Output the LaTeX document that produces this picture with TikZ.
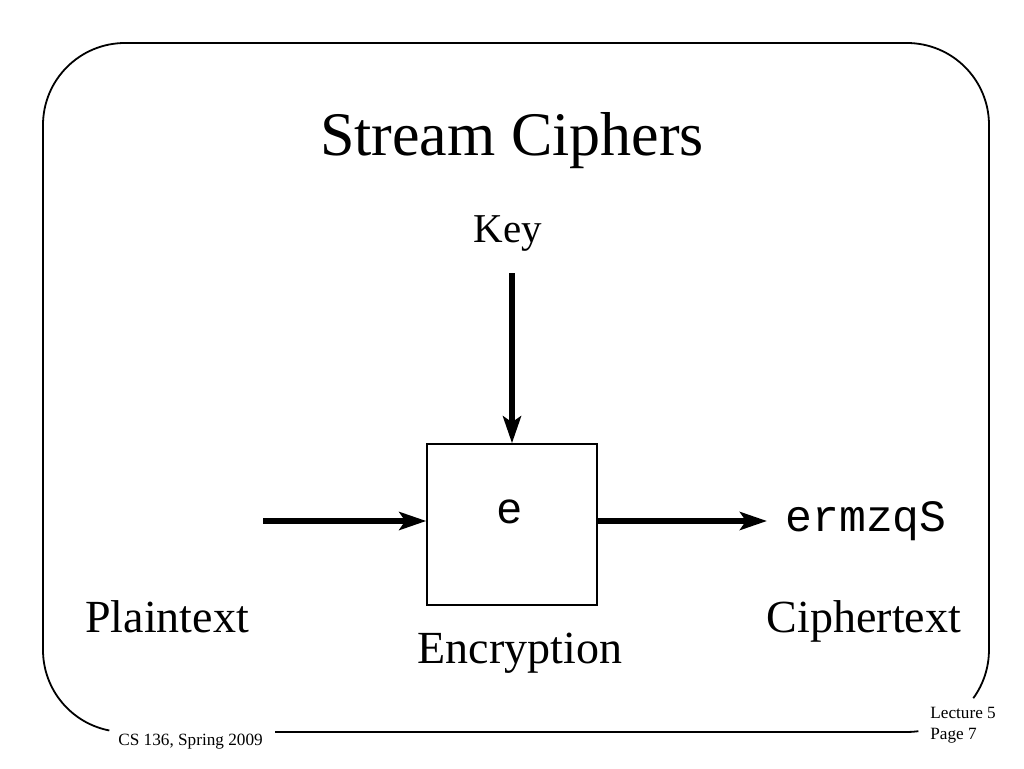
\documentclass[tikz,border=0pt]{standalone}
\usepackage{fontspec}
\setmainfont{Liberation Serif}
\setmonofont{Liberation Mono}
\usetikzlibrary{arrows.meta}
\begin{document}
\begin{tikzpicture}[x=0.5pt,y=0.5pt,
  frame/.style={line width=0.9pt,black},
  bigarrow/.style={line width=3.2pt,-{Stealth[length=13.5pt,width=9pt,inset=3pt]}},
  boxstyle/.style={draw,line width=0.7pt,minimum width=85pt,minimum height=80.5pt,inner sep=0pt},
  lbl/.style={font=\fontsize{23}{27}\selectfont,anchor=base,inner sep=0pt},
  foot/.style={font=\fontsize{8.6}{10.5}\selectfont,anchor=base west,inner sep=0pt}]
\useasboundingbox (0,0) rectangle (1024,768);
% frame
\draw[frame] (275,36) -- (907,36) arc[start angle=-90,end angle=-82,radius=82];
\draw[frame] (973.3,69.8) arc[start angle=-36,end angle=0,radius=82]
  -- (989,643) arc[start angle=0,end angle=90,radius=82]
  -- (125,725) arc[start angle=90,end angle=180,radius=82]
  -- (43,118) arc[start angle=180,end angle=259,radius=82];
% texts
\node[anchor=base,inner sep=0pt,font=\fontsize{31}{37}\selectfont] (title) at (512,613) {Stream Ciphers};
\node[anchor=base,inner sep=0pt,font=\fontsize{20.5}{24}\selectfont] (key) at (508,526) {Key};
\node[boxstyle] (enc) at (512,243.5) {};
\node[anchor=base,inner sep=0pt,font=\ttfamily\fontsize{22}{26}\selectfont] (e) at (510,245) {e};
\node[anchor=base west,inner sep=0pt,font=\ttfamily\fontsize{22.4}{26}\selectfont] (ct) at (785,237) {ermzqS};
\node[lbl] (plain) at (167,136) {Plaintext};
\node[lbl] (cipher) at (864,136) {Ciphertext};
\node[lbl] (encl) at (520,105) {Encryption};
\node[foot] (cs) at (118,23) {CS 136, Spring 2009};
\node[foot] (lec) at (930,50) {Lecture 5};
\node[foot] (pg) at (930,29) {Page 7};
% arrows
\coordinate (kin) at (512,495);
\coordinate (pin) at (263,247);
\coordinate (pout) at (767,247);
\draw[bigarrow] (kin) -- (kin |- enc.north);
\draw[bigarrow] (pin) -- (enc.west |- pin);
\draw[bigarrow] (enc.east |- pout) -- (pout);
\end{tikzpicture}
\end{document}
